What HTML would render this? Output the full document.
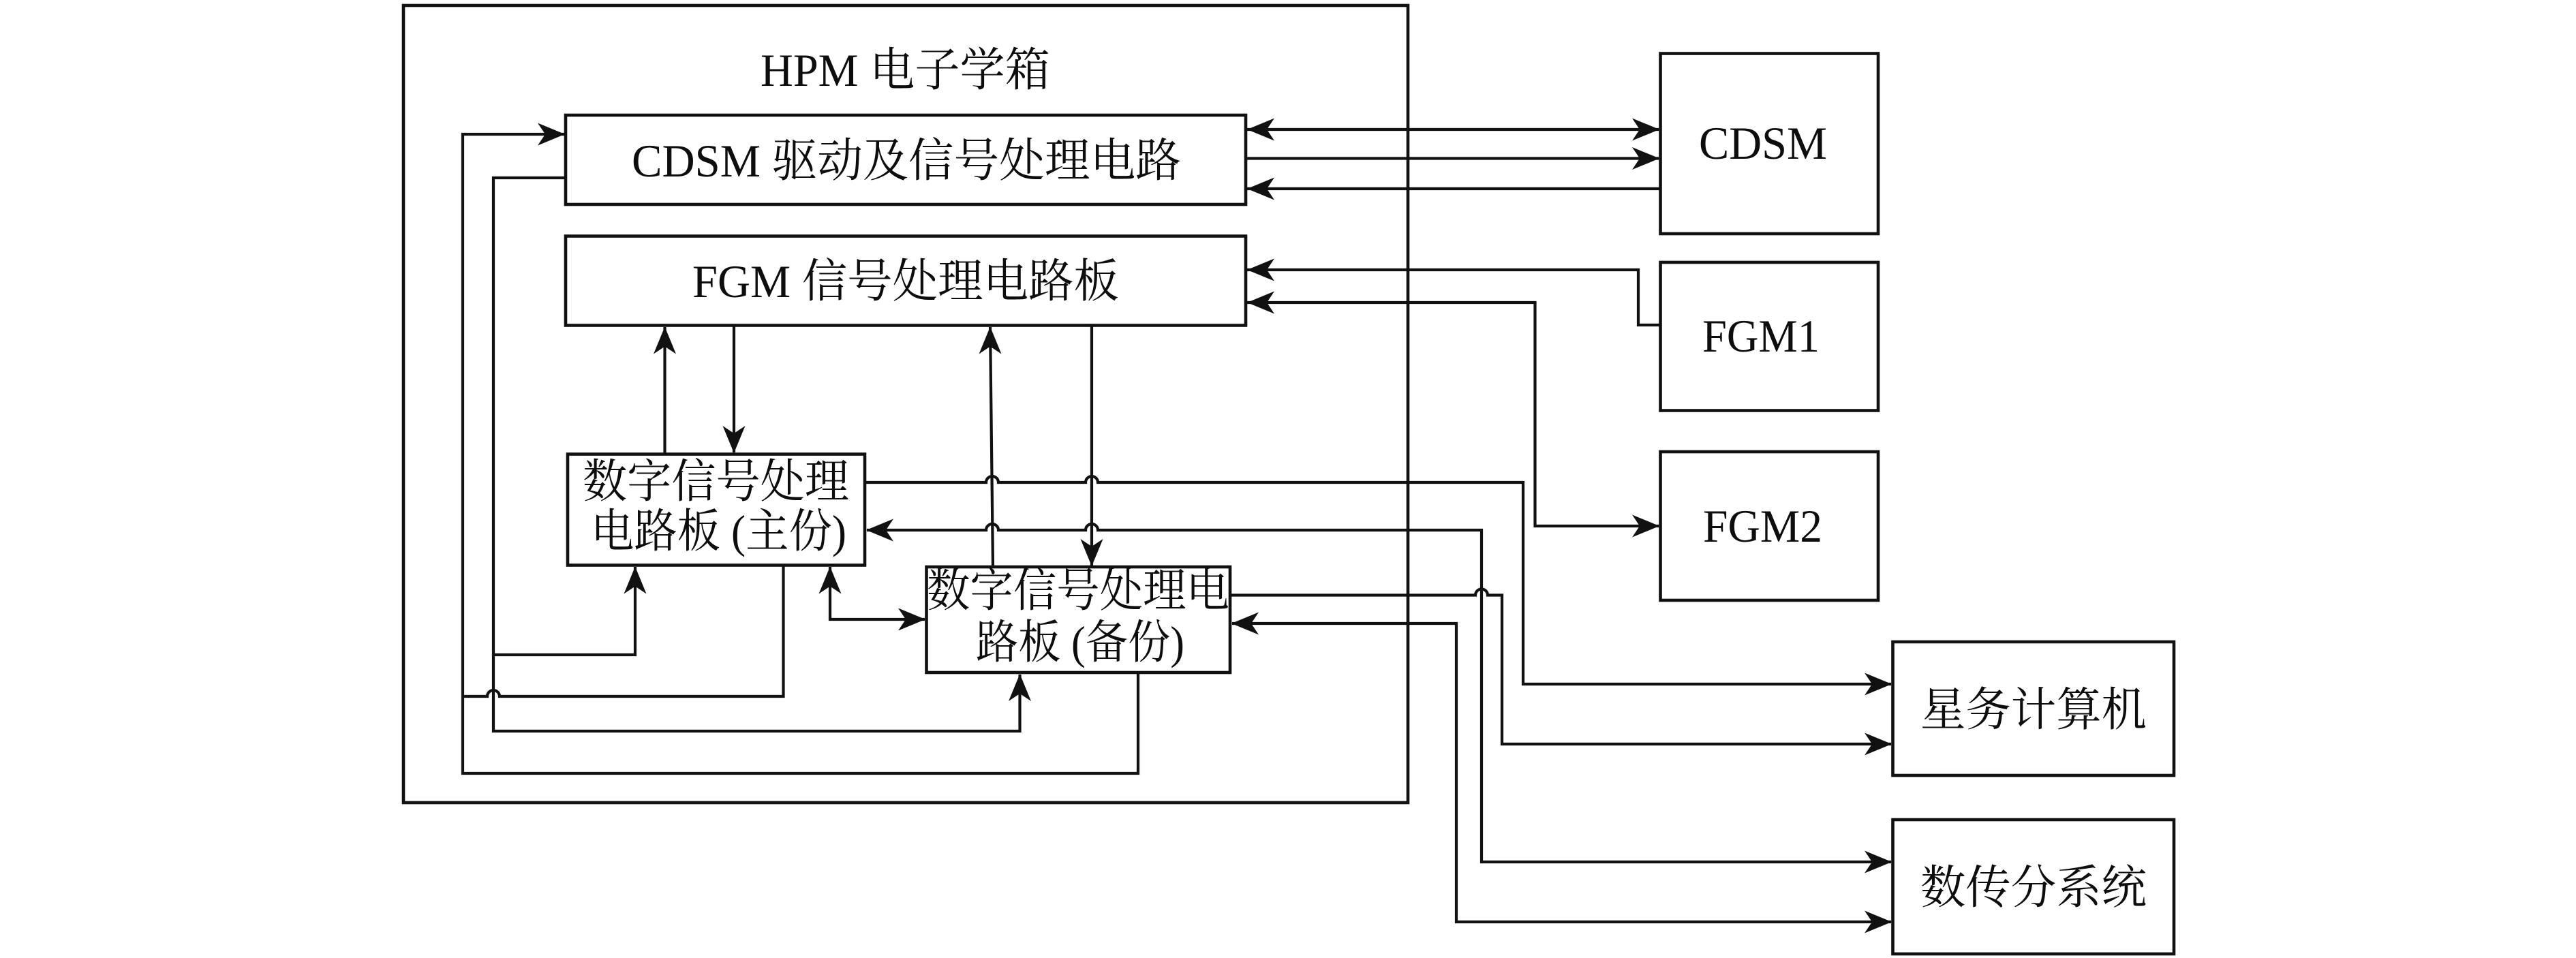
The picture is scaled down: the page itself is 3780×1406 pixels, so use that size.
<!DOCTYPE html>
<html lang="zh">
<head>
<meta charset="utf-8">
<title>HPM 电子学箱</title>
<style>
html,body{margin:0;padding:0;background:#fff;width:3780px;height:1406px;overflow:hidden}
svg{display:block}
text{font-family:"Liberation Serif","Noto Serif CJK SC",serif;font-size:68px;fill:#0d0d0d;font-weight:400}
.b{fill:none;stroke:#111;stroke-width:4.600;stroke-linejoin:miter}
.l{fill:none;stroke:#111;stroke-width:4.200;stroke-linejoin:miter}
</style>
</head>
<body>
<svg xmlns="http://www.w3.org/2000/svg" width="3780" height="1406" viewBox="0 0 3780 1406">
<defs><path id="a" d="M0,0L-40,-16.500L-29,0L-40,16.500Z" fill="#111"/></defs>
<rect width="3780" height="1406" fill="#fff"/>

<!-- boxes -->
<rect class="b" x="592" y="8" width="1474" height="1170"/>
<rect class="b" x="830" y="169" width="998" height="131"/>
<rect class="b" x="830" y="346.500" width="998" height="131"/>
<rect class="b" x="833" y="666.500" width="436" height="163"/>
<rect class="b" x="1359.500" y="832" width="445.500" height="155"/>
<rect class="b" x="2436.500" y="78.500" width="319.500" height="264.500"/>
<rect class="b" x="2436.500" y="385" width="319.500" height="217.500"/>
<rect class="b" x="2436.500" y="663" width="319.500" height="218"/>
<rect class="b" x="2777.500" y="942" width="412.500" height="196"/>
<rect class="b" x="2777.500" y="1203" width="412.500" height="197"/>

<!-- connectors -->
<path class="l" d="M829,197H679V1135H1670V987"/>
<path class="l" d="M679,1022H715A9,9 0 0 1 733,1022H1149.500V830"/>
<path class="l" d="M830,261H724V1073H1496.500V990"/>
<path class="l" d="M724,961H932V832"/>
<path class="l" d="M975.500,666V480"/>
<path class="l" d="M1077,478V664"/>
<path class="l" d="M1457,832L1453,480"/>
<path class="l" d="M1602,478V830"/>
<path class="l" d="M1269,708H1447A9,9 0 0 1 1465,708H1593A9,9 0 0 1 1611,708H2235V1004H2775"/>
<path class="l" d="M1272,778H1447A9,9 0 0 1 1465,778H1593A9,9 0 0 1 1611,778H2174V1265H2775"/>
<path class="l" d="M1218,832V909H1357"/>
<path class="l" d="M1805,873.500H2165A9,9 0 0 1 2183,873.500H2204V1092H2775"/>
<path class="l" d="M1808,915H2137V1353H2775"/>
<path class="l" d="M1830,190H2434"/>
<path class="l" d="M1828,232.500H2434"/>
<path class="l" d="M2436,277H1830"/>
<path class="l" d="M1830,396H2404V477H2436"/>
<path class="l" d="M1830,444H2252.500V772H2434"/>

<!-- arrowheads -->
<use href="#a" transform="translate(829,197)"/>
<use href="#a" transform="translate(932,831.500) rotate(-90)"/>
<use href="#a" transform="translate(1496.500,989) rotate(-90)"/>
<use href="#a" transform="translate(975.500,479.500) rotate(-90)"/>
<use href="#a" transform="translate(1077,665) rotate(90)"/>
<use href="#a" transform="translate(1453,479.500) rotate(-90)"/>
<use href="#a" transform="translate(1602,831) rotate(90)"/>
<use href="#a" transform="translate(1271,778) rotate(180)"/>
<use href="#a" transform="translate(1218,831.500) rotate(-90)"/>
<use href="#a" transform="translate(1358,909)"/>
<use href="#a" transform="translate(1807,915) rotate(180)"/>
<use href="#a" transform="translate(1830,190) rotate(180)"/>
<use href="#a" transform="translate(2435,190)"/>
<use href="#a" transform="translate(2435,232.500)"/>
<use href="#a" transform="translate(1830,277) rotate(180)"/>
<use href="#a" transform="translate(1830,396) rotate(180)"/>
<use href="#a" transform="translate(1830,444) rotate(180)"/>
<use href="#a" transform="translate(2435,772)"/>
<use href="#a" transform="translate(2776,1004)"/>
<use href="#a" transform="translate(2776,1092)"/>
<use href="#a" transform="translate(2776,1265)"/>
<use href="#a" transform="translate(2776,1353)"/>

<!-- labels -->
<text x="1116" y="126" textLength="425" lengthAdjust="spacingAndGlyphs">HPM 电子学箱</text>
<text x="927" y="259" textLength="806" lengthAdjust="spacingAndGlyphs">CDSM 驱动及信号处理电路</text>
<text x="1016" y="436" textLength="626" lengthAdjust="spacingAndGlyphs">FGM 信号处理电路板</text>
<text x="855" y="730" textLength="391" lengthAdjust="spacingAndGlyphs">数字信号处理</text>
<text x="867" y="803" textLength="375" lengthAdjust="spacingAndGlyphs">电路板 (主份)</text>
<text x="1360" y="890" textLength="444" lengthAdjust="spacingAndGlyphs">数字信号处理电</text>
<text x="1432" y="966" textLength="306" lengthAdjust="spacingAndGlyphs">路板 (备份)</text>
<text x="2493" y="233" textLength="188" lengthAdjust="spacingAndGlyphs">CDSM</text>
<text x="2498" y="516" textLength="172" lengthAdjust="spacingAndGlyphs">FGM1</text>
<text x="2499" y="795" textLength="175" lengthAdjust="spacingAndGlyphs">FGM2</text>
<text x="2818" y="1065" textLength="332" lengthAdjust="spacingAndGlyphs">星务计算机</text>
<text x="2818" y="1326" textLength="332" lengthAdjust="spacingAndGlyphs">数传分系统</text>
</svg>
</body>
</html>
